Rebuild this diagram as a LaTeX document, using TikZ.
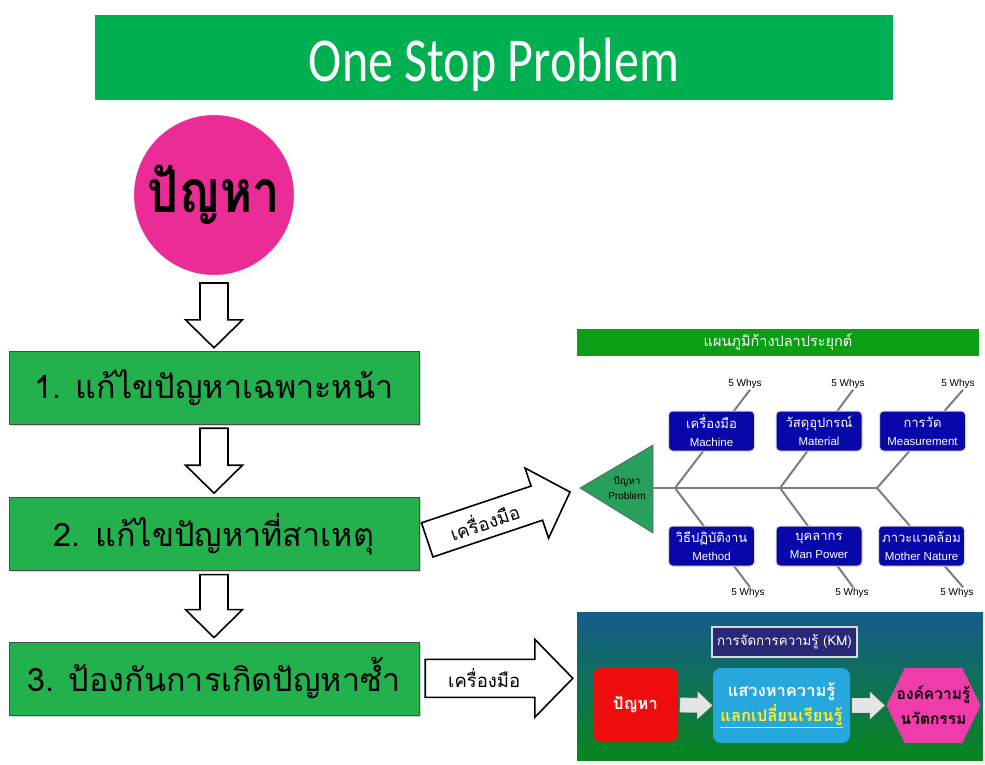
\documentclass[tikz,border=0pt]{standalone}
\usepackage{fontspec}
\setmainfont{Liberation Sans}
\newfontfamily\thaifont[Script=Thai]{Loma}
\newfontfamily\titlefont{Carlito}
\usepackage{tikz}
\usetikzlibrary{calc,positioning,shapes.symbols,shadows}

\definecolor{titlegreen}{RGB}{0,176,80}
\definecolor{stepgreen}{RGB}{34,177,76}
\definecolor{probpink}{RGB}{236,44,150}
\definecolor{fishgreen}{RGB}{12,158,20}
\definecolor{headgreen}{RGB}{38,160,90}
\definecolor{bonegray}{RGB}{125,125,125}
\definecolor{causeblue}{RGB}{8,8,170}
\definecolor{kmtop}{RGB}{22,92,140}
\definecolor{kmbottom}{RGB}{8,134,30}
\definecolor{kmnavy}{RGB}{40,40,118}
\definecolor{kmred}{RGB}{238,12,12}
\definecolor{kmcyan}{RGB}{38,168,222}
\definecolor{kmpink}{RGB}{240,60,170}
\definecolor{kmyellow}{RGB}{255,240,40}

% block arrow: [style]{tail}{tip}{shaft half width}{head half width}{head length}
\newcommand{\blockarrow}[6][]{%
  \coordinate (ba-h) at ($(#3)!#6!(#2)$);
  \draw[#1] ($(#2)!#4!90:(#3)$) -- ($(ba-h)!#4!90:(#3)$) -- ($(ba-h)!#5!90:(#3)$) -- (#3)
    -- ($(ba-h)!#5!-90:(#3)$) -- ($(ba-h)!#4!-90:(#3)$) -- ($(#2)!#4!-90:(#3)$) -- cycle;}
% thai line in a cause box
\newcommand{\causeth}[1]{{\thaifont\fontsize{13}{18}\selectfont #1}}

\begin{document}
\begin{tikzpicture}[x=1pt,y=-1pt]
 \useasboundingbox (0,0) rectangle (985,765);

\tikzstyle{stepbox}=[draw=black!70,fill=stepgreen,minimum width=410,minimum height=73,font=\thaifont\fontsize{32.3}{36}\selectfont,drop shadow={opacity=0.35,shadow xshift=2pt,shadow yshift=-2pt}]
\tikzstyle{hollow}=[draw=black,fill=white,line width=1.6pt,line join=miter]
\tikzstyle{cause}=[draw=black!15,line width=1pt,fill=causeblue,rounded corners=4pt,minimum width=86,minimum height=40,text=white,align=center,inner sep=1pt,font=\fontsize{11.5}{18}\selectfont]
\tikzstyle{whys}=[font=\fontsize{10}{11}\selectfont,inner sep=1pt]
\tikzstyle{bone}=[draw=bonegray,line width=2pt]
\tikzstyle{kmarrow}=[draw=white!70!gray,fill=gray!20,line width=0.8pt]

   %title
    \node (title) [fill=titlegreen,minimum width=798,minimum height=85,text height=49pt,text depth=0pt,text=white,font=\titlefont\fontsize{50}{56}\selectfont] at (494,57.5) {\scalebox{1}[1.25]{One Stop Problem}};

   %left column
    \node (problem) [circle,fill=probpink,draw=white,line width=4pt,minimum size=164,font=\thaifont\bfseries\fontsize{49}{54}\selectfont,circular drop shadow={opacity=0.3,shadow scale=1.03}] at (214,195) {\scalebox{1}[1.2]{ปัญหา}};

    \node (fix1) [stepbox] at (214,387.5) {1. แก้ไขปัญหาเฉพาะหน้า};
    \node (fix2) [stepbox,below=73pt of fix1] {2. แก้ไขปัญหาที่สาเหตุ};
    \node (fix3) [stepbox,below=71pt of fix2] {3. ป้องกันการเกิดปัญหาซ้ำ};

    \coordinate (dn1a) at ([yshift=-4pt]problem.south);
    \coordinate (dn1b) at ([yshift=3pt]fix1.north);
    \coordinate (dn2a) at ([yshift=-4pt]fix1.south);
    \coordinate (dn2b) at ([yshift=4pt]fix2.north);
    \coordinate (dn3a) at ([yshift=-4pt]fix2.south);
    \coordinate (dn3b) at ([yshift=4pt]fix3.north);
    \blockarrow[hollow]{dn1a}{dn1b}{14pt}{28.5pt}{28pt}
    \blockarrow[hollow]{dn2a}{dn2b}{14pt}{28.5pt}{28pt}
    \blockarrow[hollow]{dn3a}{dn3b}{14pt}{28.5pt}{28pt}

   %fishbone
    \node (fishbar) [fill=fishgreen,minimum width=402,minimum height=27,text=white,font=\thaifont\fontsize{14.5}{15}\selectfont] at (778,342.5) {แผนภูมิก้างปลาประยุกต์};

    \draw [fill=headgreen,draw=black!60,line width=0.8pt] (580,488) coordinate (fishtip) -- (653,445) -- (653,533) -- cycle;
    \node (fishhead) [align=center,inner sep=0pt,font=\fontsize{10}{15}\selectfont] at (627,488) {{\thaifont ปัญหา}\\Problem};

    \coordinate (spine) at (653,488);
    \coordinate (j1) at (675,488);
    \coordinate (j2) at (780,488);
    \coordinate (j3) at (877,488);
    \draw [bone] (spine) -- (j3);

    \node (whyu1) [whys] at (745,384) {5 Whys};
    \node (whyu2) [whys] at (848,384) {5 Whys};
    \node (whyu3) [whys] at (958,384) {5 Whys};
    \node (whyd1) [whys] at (748,593) {5 Whys};
    \node (whyd2) [whys] at (852,593) {5 Whys};
    \node (whyd3) [whys] at (957,593) {5 Whys};

    \draw [bone] (j1) -- ([xshift=5pt]whyu1.south);
    \draw [bone] (j2) -- ([xshift=5pt]whyu2.south);
    \draw [bone] (j3) -- ([xshift=5pt]whyu3.south);
    \draw [bone] (j1) -- ([xshift=2pt]whyd1.north);
    \draw [bone] (j2) -- ([xshift=1pt]whyd2.north);
    \draw [bone] (j3) -- ([xshift=6pt]whyd3.north);

    \node (machine) [cause] at (711.5,431) {\causeth{เครื่องมือ}\\Machine};
    \node (material) [cause] at (819,431) {\causeth{วัสดุอุปกรณ์}\\Material};
    \node (measure) [cause] at (922.5,431) {\causeth{การวัด}\\Measurement};
    \node (method) [cause] at (711.5,546) {\causeth{วิธีปฏิบัติงาน}\\Method};
    \node (manpower) [cause] at (819,546) {\causeth{บุคลากร}\\Man Power};
    \node (nature) [cause] at (921.5,546) {\causeth{ภาวะแวดล้อม}\\Mother Nature};

   %knowledge management
    \node (kmpanel) [minimum width=406,minimum height=148,inner sep=0pt,top color=kmtop,bottom color=kmbottom] at (780,686) {};
    \node (kmtitle) [fill=kmnavy,draw=white!85!black,line width=1.5pt,text=white,minimum width=145,minimum height=30,font=\thaifont\fontsize{13.3}{15}\selectfont] at (784.5,642) {การจัดการความรู้ (KM)};
    \node (kmprob) [rounded corners=8pt,fill=kmred,minimum width=85,minimum height=74,text=white,font=\thaifont\bfseries\fontsize{16.5}{18}\selectfont] at (635.5,705) {ปัญหา};
    \node (kmseek) [rounded corners=8pt,fill=kmcyan,minimum width=137,minimum height=75,align=center,text=white,font=\thaifont\bfseries\fontsize{16.5}{25}\selectfont] at (781.5,705.5) {แสวงหาความรู้\\\textcolor{kmyellow}{\underline{แลกเปลี่ยนเรียนรู้}}};
    \node (kmknow) [signal,signal to=east and west,signal pointer angle=128,fill=kmpink,minimum height=75,inner xsep=-8pt,inner ysep=1pt,align=center,font=\thaifont\bfseries\fontsize{15.5}{25}\selectfont] at (933.5,705.5) {องค์ความรู้\\นวัตกรรม};

    \coordinate (ka1) at ([xshift=2pt]kmprob.east);
    \coordinate (ka2) at ([xshift=-1pt]kmseek.west);
    \coordinate (kb1) at ([xshift=2pt]kmseek.east);
    \coordinate (kb2) at ([xshift=-2pt]kmknow.west);
    \blockarrow[kmarrow]{ka1}{ka2}{7pt}{13pt}{14pt}
    \blockarrow[kmarrow]{kb1}{kb2}{7pt}{13pt}{14pt}

   %tool arrows
    \coordinate (rt2a) at ([xshift=8pt,yshift=-6pt]fix2.east);
    \coordinate (rt2b) at ([xshift=-10pt,yshift=-4pt]fishtip);
    \blockarrow[hollow]{rt2a}{rt2b}{18pt}{37pt}{35pt}
    \path (rt2a) -- (rt2b) node (tool2) [pos=0.4,sloped,font=\thaifont\fontsize{18.5}{20}\selectfont] {เครื่องมือ};

    \coordinate (rt3a) at ([xshift=6pt]fix3.east);
    \coordinate (rt3b) at ([xshift=-4pt]kmpanel.west |- fix3.east);
    \blockarrow[hollow]{rt3a}{rt3b}{19pt}{39pt}{38pt}
    \path (rt3a) -- (rt3b) node (tool3) [pos=0.4,font=\thaifont\fontsize{18.5}{20}\selectfont] {เครื่องมือ};

\end{tikzpicture}
\end{document}
